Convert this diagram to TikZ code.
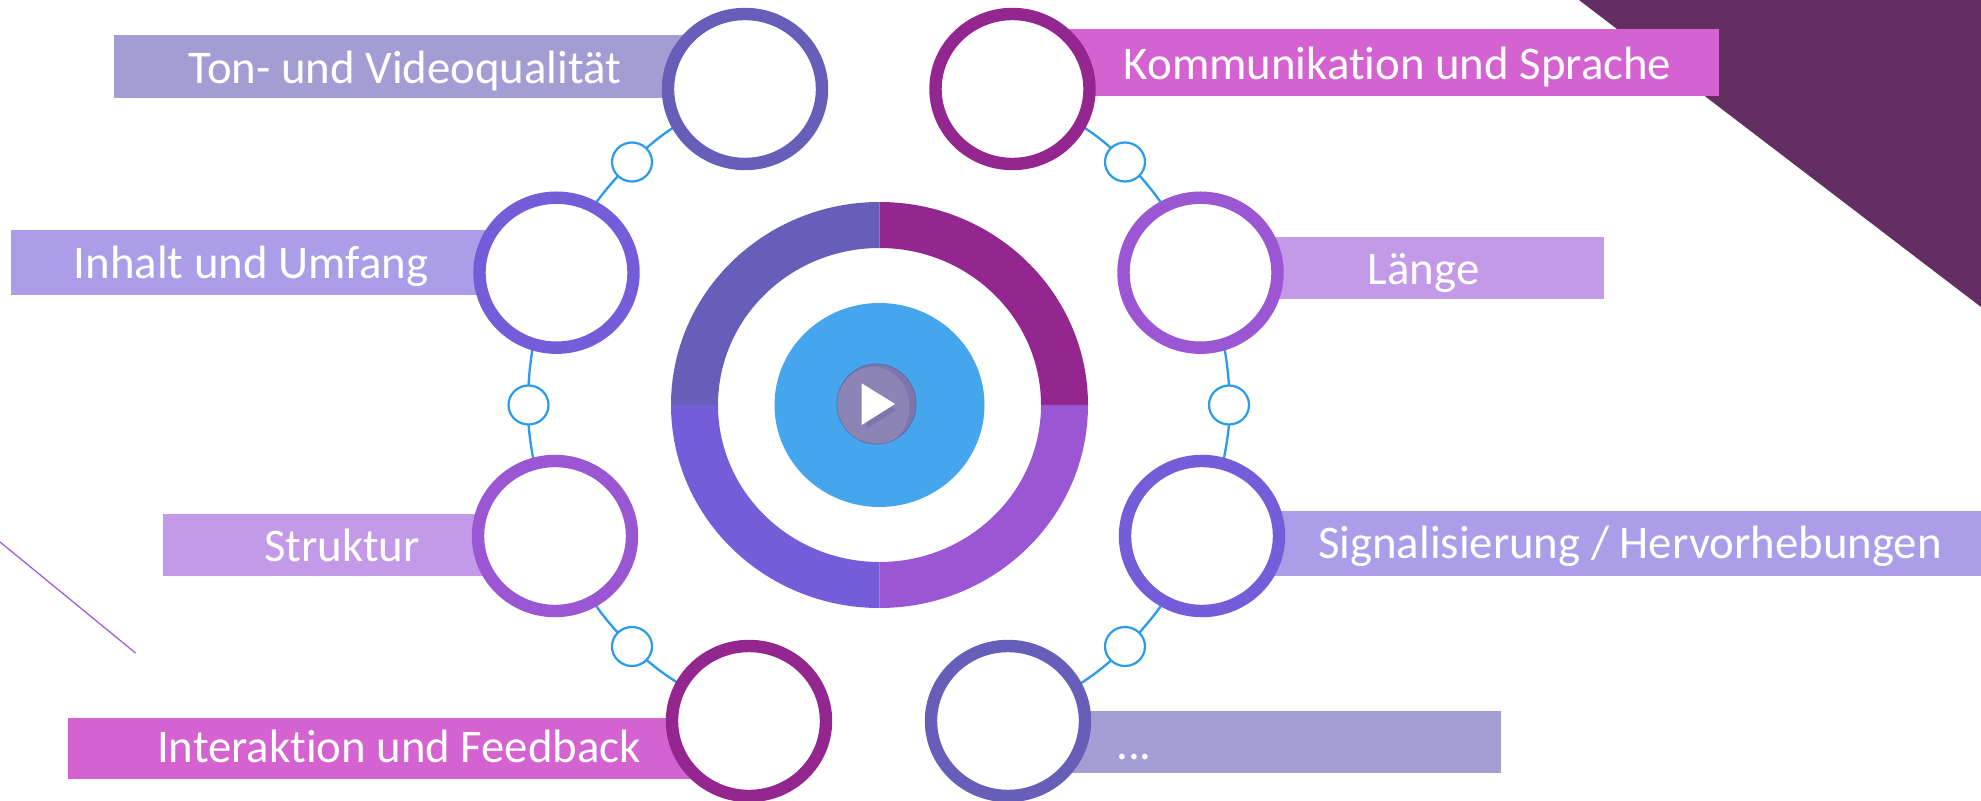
\documentclass[tikz,border=0pt]{standalone}
\usepackage{fontspec}
\setmainfont[RawFeature={-liga}]{Carlito}
\usetikzlibrary{shapes.geometric,backgrounds}
\definecolor{cA}{HTML}{93278F}
\definecolor{cB}{HTML}{9B57D3}
\definecolor{cC}{HTML}{755DD9}
\definecolor{cD}{HTML}{665EB8}
\definecolor{lA}{HTML}{D562D1}
\definecolor{lB}{HTML}{C39AE7}
\definecolor{lC}{HTML}{AB9DE8}
\definecolor{lD}{HTML}{A49DD3}
\definecolor{sky}{HTML}{45A5ED}
\definecolor{wire}{HTML}{2A9BEB}
\definecolor{corner}{HTML}{632E62}
\definecolor{playlight}{HTML}{8B84B5}
\definecolor{playdark}{HTML}{7F75AE}
\definecolor{playedge}{HTML}{5F6CA5}
\newcommand{\ringseg}[2]{%
  \fill[#2] ([shift={(#1:104.25pt and 101.5pt)}]ctr) arc[start angle=#1,end angle=#1+90,x radius=104.25pt,y radius=101.5pt]
    -- ([shift={(#1+90:80.75pt and 78.5pt)}]ctr) arc[start angle=#1+90,end angle=#1,x radius=80.75pt,y radius=78.5pt] -- cycle;}
\tikzset{
  bigring/.style={ellipse,draw=#1,line width=6.2pt,fill=white,inner sep=0pt,outer sep=0pt,minimum width=77pt,minimum height=75pt},
  knot/.style={ellipse,draw=wire,line width=1.1pt,fill=white,inner sep=0pt,outer sep=0pt,minimum width=20pt,minimum height=19.5pt},
  caption/.style={anchor=base,text=white,inner sep=0pt,font=\fontsize{23.4}{27}\selectfont},
  wirelink/.style={draw=wire,line width=1.15pt},
}
\begin{document}
\begin{tikzpicture}[x=0.5pt,y=-0.5pt]
\useasboundingbox (0,0) rectangle (1981,801);
\coordinate (ctr) at (879.5,405);
\fill[corner] (1579,0) -- (1981,0) -- (1981,307) -- cycle;
\draw[cB,line width=0.6pt] (0,542) -- (135.5,653);
% bands
\fill[lD] (114,35) rectangle (745,98);
\fill[lC] (11,230) rectangle (556,295);
\fill[lB] (163,514) rectangle (555,576);
\fill[lA] (68,718) rectangle (749,779);
\fill[lA] (1012,29) rectangle (1719,96);
\fill[lB] (1200,237) rectangle (1604,299);
\fill[lC] (1202,511) rectangle (1981,576);
\fill[lD] (1008,711) rectangle (1501,773);
% centre
\ringseg{0}{cA}
\ringseg{90}{cD}
\ringseg{180}{cC}
\ringseg{270}{cB}
\node[ellipse,fill=sky,inner sep=0pt,minimum width=105pt,minimum height=102pt] (hub) at (879.5,405) {};
\node[ellipse,draw=playedge,line width=0.4pt,fill=playdark,inner sep=0pt,minimum width=39.5pt,minimum height=40pt] (play) at (876.5,404) {};
\begin{scope}
\clip (876.5,404) ellipse[x radius=19.6pt,y radius=19.8pt];
\fill[playlight] (873,407) ellipse[x radius=18.2pt,y radius=20pt];
\end{scope}
\fill[playdark] (866.5,388) -- (866.5,429) -- (896,410) -- cycle;
\fill[white] (861.7,383.3) -- (861.7,425) -- (895,404) -- cycle;
% rings
\node[bigring=cD] (r1) at (745,89) {};
\node[bigring=cC] (r2) at (556.5,272.7) {};
\node[bigring=cB] (r3) at (555,536) {};
\node[bigring=cA] (r4) at (749,721) {};
\node[bigring=cA] (r5) at (1012.5,89) {};
\node[bigring=cB] (r6) at (1200.5,272.7) {};
\node[bigring=cC] (r7) at (1202,536) {};
\node[bigring=cD] (r8) at (1008,721) {};
\node[knot] (k1) at (632,162) {};
\node[knot] (k2) at (528.5,405) {};
\node[knot] (k3) at (632,646.5) {};
\node[knot] (k4) at (1125,162) {};
\node[knot] (k5) at (1229,405) {};
\node[knot] (k6) at (1125,646.5) {};
\begin{pgfonlayer}{background}
\fill[white] (0,0) rectangle (1981,801);
\draw[wirelink] (r1.208) to[bend right=4] (k1.44);
\draw[wirelink] (k1.225) to[bend right=3] (r2.61);
\draw[wirelink] (r2.252) to[bend right=3] (k2.90);
\draw[wirelink] (k2.270) to[bend right=3] (r3.106);
\draw[wirelink] (r3.300) to[bend right=3] (k3.136);
\draw[wirelink] (k3.317) to[bend right=4] (r4.152);
\draw[wirelink] (r5.332) to[bend left=4] (k4.135);
\draw[wirelink] (k4.317) to[bend left=3] (r6.119);
\draw[wirelink] (r6.288) to[bend left=3] (k5.90);
\draw[wirelink] (k5.270) to[bend left=3] (r7.74);
\draw[wirelink] (r7.240) to[bend left=3] (k6.44);
\draw[wirelink] (k6.225) to[bend left=4] (r8.27.5);
\end{pgfonlayer}
% captions
\node[caption] (t1) at (405,83.5) {Ton- und Videoqualität};
\node[caption] (t2) at (251,278.5) {Inhalt und Umfang};
\node[caption] (t3) at (342,561.5) {Struktur};
\node[caption] (t4) at (399,762.5) {Interaktion und Feedback};
\node[caption] (t5) at (1397.6,80) {Kommunikation und Sprache};
\node[caption] (t6) at (1423.5,285) {Länge};
\node[caption] (t7) at (1630,558.5) {Signalisierung / Hervorhebungen};
\node[caption] (t8) at (1134,759) {...};
\end{tikzpicture}
\end{document}
